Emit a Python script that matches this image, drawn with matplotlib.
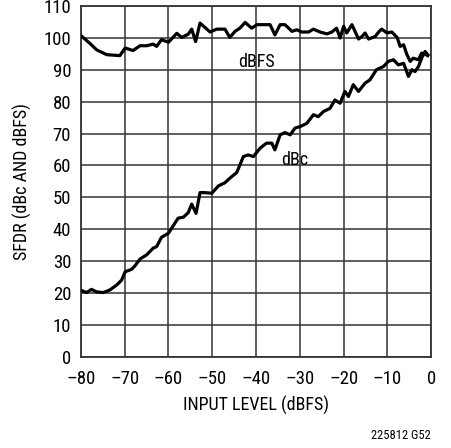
import matplotlib
matplotlib.use('Agg')
import matplotlib.pyplot as plt

plt.rcParams['font.family'] = ['Roboto Condensed', 'Liberation Sans', 'DejaVu Sans']

# dBFS curve
dbfs_x = [-80.2, -78, -76.4, -74.1, -71.1, -69.9, -68.1, -66.5, -65, -63.5, -62.7, -61.6, -60,
          -58.1, -57, -55.5, -54.7, -53.8, -52.8, -50.5, -49, -47.1, -46, -44.8, -43.7,
          -42.5, -41, -39.8, -36.8, -35.7, -34.5, -33.4, -31.8, -30.7, -29.6, -28, -26.9,
          -25.4, -23.8, -22.7, -21.6, -20.8, -20, -19.3, -18.1, -16.6, -15.8, -15.1, -14.3,
          -12.8, -12, -11.3, -10.1, -9, -7.8, -7.1, -6.3, -5.6, -4.8, -4.1, -2.9, -2.2,
          -1.4, -0.8]
dbfs_y = [100.9, 98.3, 96.2, 94.7, 94.4, 96.8, 96, 97.5, 97.5, 98, 97.3, 99.4, 98.6,
          101.4, 100.1, 101.1, 102.7, 98.8, 104.6, 101.8, 102.7, 102.7, 100.1, 102, 103,
          104.8, 103, 104.1, 104.1, 100.9, 104.1, 104.1, 102, 102.5, 101.8, 101.8, 102.7,
          101.8, 101.2, 101.8, 103, 99.9, 103.6, 101.5, 104.1, 99.6, 100.4, 101.5, 99.6,
          100.4, 101.8, 102.7, 101.5, 101.8, 100.1, 97.3, 97.8, 94.9, 92.6, 93.6, 93.1, 95.2,
          94.9, 94.4]

# dBc curve
dbc_x = [-80.2, -78.7, -77.6, -76.4, -74.9, -73.4, -71.8, -70.7, -69.9, -68.4, -67.7, -66.5,
         -65, -63.5, -62.7, -61.6, -60, -57.8, -56.6, -55.5, -54.7, -53.7, -52.8, -51.7,
         -50.1, -48.6, -47.1, -46, -44.4, -42.9, -41.8, -40.6, -39.1, -37.6, -36.4, -35.7,
         -34.5, -33.4, -32.2, -31.1, -29.9, -28.4, -26.9, -25.8, -24.6, -23.1, -22, -20.8,
         -19.7, -18.9, -17.8, -16.6, -15.1, -14, -12.5, -10.9, -9.8, -8.6, -7.5, -6.3,
         -5.2, -4.4, -3.7, -2.9, -2.2, -1.4, -0.8]
dbc_y = [21, 20.2, 21.2, 20.4, 20.2, 21, 22.6, 24.1, 26.7, 27.5, 28.5, 30.7,
         32, 34.1, 34.6, 37.5, 38.8, 43.5, 43.8, 45.2, 47.9, 45, 51.5, 51.5,
         51.3, 53.6, 54.6, 56, 57.8, 62.8, 63.3, 62.8, 65.4, 67, 67, 64.9,
         69.6, 70.3, 69.6, 71.7, 72.2, 73.2, 75.9, 75.3, 76.9, 77.9, 80.5, 79.5,
         83.2, 81.6, 85.3, 83.2, 85.8, 86.8, 90, 91, 92.6, 93.1, 91.5, 92,
         87.9, 90, 89.4, 91, 93.6, 95.7, 94.7]

x_ticks = [-80, -70, -60, -50, -40, -30, -20, -10, 0]
y_ticks = [0, 10, 20, 30, 40, 50, 60, 70, 80, 90, 100, 110]

fig = plt.figure(figsize=(4.52, 4.48), dpi=100)
ax = fig.add_axes([0.179, 0.203, 0.775, 0.784])

ax.plot(dbfs_x, dbfs_y, color='black', lw=2.3, solid_joinstyle='round', zorder=3)
ax.plot(dbc_x, dbc_y, color='black', lw=2.3, solid_joinstyle='round', zorder=3)

ax.set_xlim(-80, 0)
ax.set_ylim(0, 110)
ax.set_xticks(x_ticks)
ax.set_yticks(y_ticks)
ax.set_xticklabels([str(v).replace('-', '\u2013') for v in x_ticks])
ax.tick_params(length=0, labelsize=13.5)
ax.tick_params(axis='x', pad=9)
ax.tick_params(axis='y', pad=7)
ax.grid(True, color='#333333', lw=1.1)
for s in ax.spines.values():
    s.set_color('#333333')
    s.set_linewidth(1.3)

ax.text(-40, 92.5, 'dBFS', fontsize=13, ha='center', va='center')
ax.text(-31.1, 61.8, 'dBc', fontsize=13, ha='center', va='center')

ax.set_xlabel('INPUT LEVEL (dBFS)', fontsize=13, labelpad=6)
ax.set_ylabel('SFDR (dBc AND dBFS)', fontsize=13, labelpad=8)
fig.text(0.954, 0.029, '225812 G52', fontsize=9, ha='right', va='center')

fig.savefig('out.png', dpi=100)
